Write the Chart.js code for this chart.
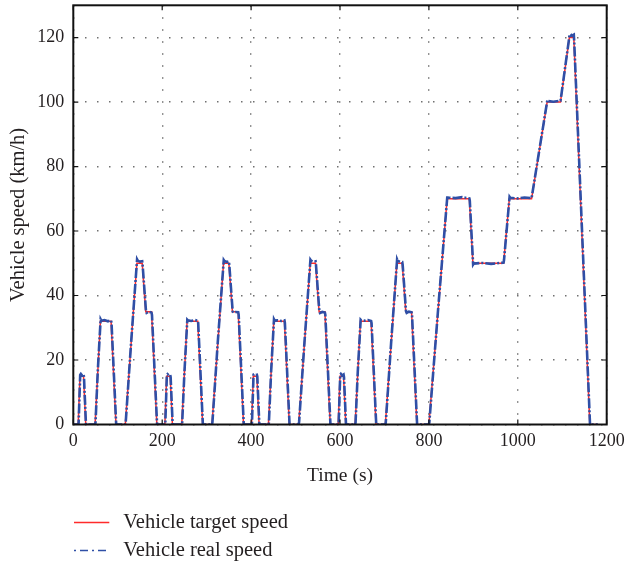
<!DOCTYPE html>
<html>
<head>
<meta charset="utf-8">
<script src="https://cdn.jsdelivr.net/npm/chart.js@4.4.1/dist/chart.umd.min.js"></script>
<style>
  html, body { margin: 0; padding: 0; background: #ffffff; }
  #wrap { width: 628px; height: 562px; }
</style>
</head>
<body>
<div id="wrap"><canvas id="speedChart" width="628" height="562"></canvas></div>
<script>
// Series labels
const seriesLabels = ['Vehicle target speed', 'Vehicle real speed'];

// Axis ticks
const xTicks = [0, 200, 400, 600, 800, 1000, 1200];
const yTicks = [0, 20, 40, 60, 80, 100, 120];

// Target speed profile: breakpoint times (s) and speeds (km/h)
const targetTime = [
  0, 11, 15, 23, 28, 49, 61, 85, 96, 117, 143, 155, 163, 176, 188, 195,
  206, 210, 218, 223, 244, 256, 280, 291, 312, 338, 350, 358, 371, 383, 390,
  401, 405, 413, 418, 439, 451, 475, 486, 507, 533, 545, 553, 566, 578, 585,
  596, 600, 608, 613, 634, 646, 670, 681, 702, 728, 740, 748, 761, 773, 780,
  800, 841, 891, 899, 968, 981, 1031, 1066, 1096, 1116, 1126, 1162, 1180
];
const targetSpeed = [
  0, 0, 15, 15, 0, 0, 32, 32, 0, 0, 50, 50, 35, 35, 0, 0,
  0, 15, 15, 0, 0, 32, 32, 0, 0, 50, 50, 35, 35, 0, 0,
  0, 15, 15, 0, 0, 32, 32, 0, 0, 50, 50, 35, 35, 0, 0,
  0, 15, 15, 0, 0, 32, 32, 0, 0, 50, 50, 35, 35, 0, 0,
  0, 70, 70, 50, 50, 70, 70, 100, 100, 120, 120, 0, 0
];

// Measured speed: sample times (s) and speeds (km/h)
const realTime = [
  0, 11, 12, 15.5, 17, 20, 23, 24, 28.5, 49, 50, 55, 61.5, 63, 70, 78, 85, 86, 96.5,
  117, 118, 130, 143.5, 145, 150, 155, 156, 163.5, 165, 170, 176, 177, 188.5, 195,
  206, 207, 210.5, 212, 215, 218, 219, 223.5, 244, 245, 250, 256.5, 258, 265, 273, 280, 281, 291.5,
  312, 313, 325, 338.5, 340, 345, 350, 351, 358.5, 360, 365, 371, 372, 383.5, 390,
  401, 402, 405.5, 407, 410, 413, 414, 418.5, 439, 440, 445, 451.5, 453, 460, 468, 475, 476, 486.5,
  507, 508, 520, 533.5, 535, 540, 545, 546, 553.5, 555, 560, 566, 567, 578.5, 585,
  596, 597, 600.5, 602, 605, 608, 609, 613.5, 634, 635, 640, 646.5, 648, 655, 663, 670, 671, 681.5,
  702, 703, 715, 728.5, 730, 735, 740, 741, 748.5, 750, 755, 761, 762, 773.5, 780,
  800, 801, 820, 841.5, 843, 860, 875, 891, 892, 899.5, 901, 920, 940, 968, 969,
  981.5, 983, 1000, 1015, 1031, 1032, 1066.5, 1068, 1080, 1096, 1097,
  1116.5, 1118, 1122, 1126, 1127, 1162.5, 1180
];
const realSpeed = [
  0, 0, 0.5, 15.4, 15.7, 15.2, 15.5, 14.8, 0, 0, 0.6, 16.4, 32.6, 32.2, 32.4, 32.0, 32.3, 31.5, 0,
  0, 0.8, 25.3, 51.2, 50.8, 50.5, 50.6, 49.4, 35.2, 34.6, 35.0, 34.7, 34.0, 0, 0,
  0, 0.5, 15.3, 15.6, 15.2, 15.4, 14.7, 0, 0, 0.6, 16.2, 32.5, 32.3, 32.1, 32.4, 32.2, 31.4, 0,
  0, 0.7, 25.5, 51.0, 50.7, 50.4, 50.6, 49.5, 35.1, 34.7, 34.9, 34.8, 34.1, 0, 0,
  0, 0.6, 15.5, 15.6, 15.3, 15.4, 14.8, 0, 0, 0.5, 16.3, 32.6, 32.2, 32.3, 32.1, 32.3, 31.5, 0,
  0, 0.8, 25.4, 51.1, 50.8, 50.5, 50.6, 49.4, 35.2, 34.6, 34.9, 34.7, 34.0, 0, 0,
  0, 0.5, 15.4, 15.7, 15.2, 15.5, 14.7, 0, 0, 0.6, 16.4, 32.5, 32.3, 32.2, 32.4, 32.1, 31.4, 0,
  0, 0.7, 25.3, 51.2, 50.7, 50.5, 50.4, 49.5, 35.1, 34.6, 35.0, 34.8, 34.1, 0, 0,
  0, 0.7, 34.5, 70.8, 70.4, 70.2, 70.5, 70.1, 69.4, 49.6, 49.9, 50.1, 49.8, 50.2, 51.0,
  70.6, 70.3, 70.1, 70.4, 70.2, 71.0, 100.6, 100.3, 100.1, 100.4, 101.2,
  120.8, 121.1, 120.6, 120.9, 118.5, 0, 0
];

const serif = '"Liberation Serif", "DejaVu Serif", serif';
const textColor = '#231f20';
const redColor = '#ff2b2b';
const blueColor = '#2f4fa6';

function toPoints(xs, ys) {
  return xs.map((x, i) => ({ x: x, y: ys[i] }));
}

// Box frame with inward tick marks, drawn over the data
const framePlugin = {
  id: 'frame',
  afterDatasetsDraw(chart) {
    const { ctx, chartArea: a, scales } = chart;
    const len = 5;
    ctx.save();
    ctx.strokeStyle = '#111111';
    ctx.lineWidth = 1.2;
    ctx.beginPath();
    xTicks.forEach(v => {
      const px = scales.x.getPixelForValue(v);
      ctx.moveTo(px, a.bottom); ctx.lineTo(px, a.bottom - len);
      ctx.moveTo(px, a.top); ctx.lineTo(px, a.top + len);
    });
    yTicks.forEach(v => {
      const py = scales.y.getPixelForValue(v);
      ctx.moveTo(a.left, py); ctx.lineTo(a.left + len, py);
      ctx.moveTo(a.right, py); ctx.lineTo(a.right - len, py);
    });
    ctx.stroke();
    ctx.lineWidth = 2;
    ctx.strokeRect(a.left, a.top, a.right - a.left, a.bottom - a.top);
    ctx.restore();
  }
};

// Stacked legend under the plot
const stackedLegend = {
  id: 'stackedLegend',
  afterDraw(chart) {
    const { ctx, chartArea: a } = chart;
    const ds = chart.data.datasets;
    const x0 = a.left + 0.7, x1 = a.left + 36, tx = a.left + 50;
    const rows = [a.bottom + 98, a.bottom + 126];
    ctx.save();
    ctx.font = '20.5px ' + serif;
    ctx.fillStyle = textColor;
    ctx.textBaseline = 'middle';
    ctx.textAlign = 'left';
    ds.forEach((d, i) => {
      const y = rows[i];
      ctx.strokeStyle = d.borderColor;
      ctx.lineWidth = i === 0 ? 1.6 : 1.4;
      ctx.setLineDash(i === 0 ? [] : [2, 4, 8, 4]);
      ctx.beginPath();
      ctx.moveTo(x0, y); ctx.lineTo(x1, y);
      ctx.stroke();
      ctx.setLineDash([]);
      ctx.fillText(d.label, tx, y);
    });
    ctx.restore();
  }
};

new Chart(document.getElementById('speedChart'), {
  type: 'line',
  data: {
    datasets: [
      {
        label: seriesLabels[0],
        data: toPoints(targetTime, targetSpeed),
        borderColor: redColor,
        borderWidth: 1.5,
        pointRadius: 0,
        tension: 0,
        order: 1
      },
      {
        label: seriesLabels[1],
        data: toPoints(realTime, realSpeed),
        borderColor: blueColor,
        borderWidth: 2.6,
        borderDash: [10, 2, 2, 2],
        pointRadius: 0,
        tension: 0,
        order: 0
      }
    ]
  },
  options: {
    responsive: false,
    animation: false,
    events: [],
    layout: { padding: { left: 0, top: 5.3, right: 21.3, bottom: 74.1 } },
    plugins: {
      legend: { display: false },
      tooltip: { enabled: false }
    },
    scales: {
      x: {
        type: 'linear',
        min: 0,
        max: 1200,
        afterBuildTicks: s => { s.ticks = xTicks.map(v => ({ value: v })); },
        afterFit: s => { s.height = 63.4; s.paddingLeft = 0; s.paddingRight = 0; },
        grid: { color: '#707070', lineWidth: 1.4, drawTicks: false },
        border: { display: false, dash: [1.5, 10.5] },
        ticks: { padding: 6, color: textColor, font: { family: serif, size: 18 }, maxRotation: 0,
                 callback: v => String(v) },
        title: { display: true, text: 'Time (s)', color: textColor, font: { family: serif, size: 19.5 }, padding: 0 }
      },
      y: {
        type: 'linear',
        min: 0,
        max: 130,
        afterBuildTicks: s => { s.ticks = yTicks.map(v => ({ value: v })); },
        afterFit: s => { s.width = 73.3; s.paddingTop = 0; s.paddingBottom = 0; },
        grid: { color: '#707070', lineWidth: 1.4, drawTicks: false },
        border: { display: false, dash: [1.5, 10.5] },
        ticks: { padding: 9, color: textColor, font: { family: serif, size: 18 },
                 callback: v => String(v) },
        title: { display: true, text: 'Vehicle speed (km/h)', color: textColor, font: { family: serif, size: 20.5 }, padding: { top: 6.4, bottom: 0 } }
      }
    }
  },
  plugins: [framePlugin, stackedLegend]
});
</script>
</body>
</html>
